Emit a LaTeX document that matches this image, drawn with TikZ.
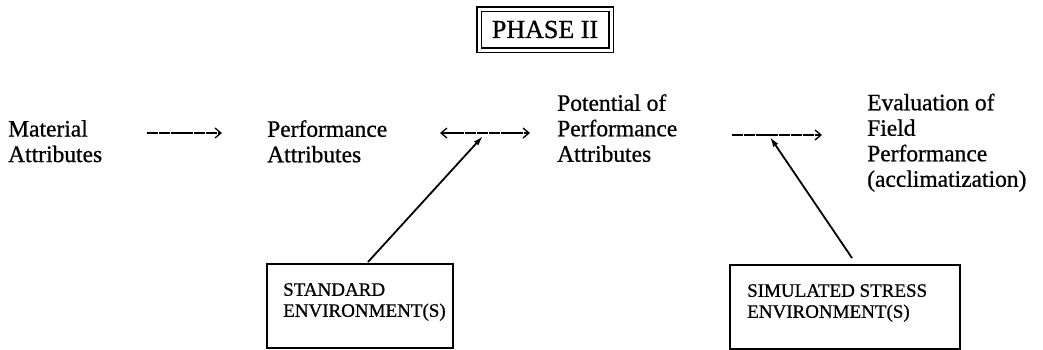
\documentclass[tikz,border=0pt]{standalone}
\usepackage{fontspec}
\setmainfont{Liberation Serif}[FakeBold=0.8]
\usetikzlibrary{arrows.meta}
\begin{document}
\begin{tikzpicture}[x=1pt,y=-1pt,
  lbl/.style={anchor=north west,align=left,inner sep=0pt,font=\fontsize{23.5}{25.5}\selectfont},
  envbox/.style={draw,line width=1.5pt,anchor=north west,minimum height=84pt,inner sep=0pt},
  envtxt/.style={anchor=north west,align=left,inner sep=0pt,font=\fontsize{19}{21}\selectfont},
  barb/.tip={Straight Barb[length=6pt,width=10pt,line width=1.3pt]},
  flow/.style={line width=1.4pt,dash pattern=on 11pt off 0.8pt,-barb},
  dflow/.style={line width=1.4pt,dash pattern=on 11pt off 0.8pt,barb-barb},
  feed/.style={line width=1.8pt,-{Latex[length=10pt,width=6pt]}}]
\useasboundingbox (0,0) rectangle (1043,349);
% Phase box
\node[draw,double,double distance=3pt,line width=1.6pt,minimum width=132pt,minimum height=41pt,font=\fontsize{26}{28}\selectfont] (phase) at (545,29.5) {PHASE II};
% labels
\node[lbl] (mat) at (8,120) {Material\\Attributes};
\node[lbl] (perf) at (267,120) {Performance\\Attributes};
\node[lbl] (pot) at (557,94) {Potential of\\Performance\\Attributes};
\node[lbl] (eval) at (867,93.5) {Evaluation of\\Field\\Performance\\(acclimatization)};
% boxes
\node[envbox,minimum width=186pt] (std) at (266,263) {};
\node[envtxt] (stdt) at (283,283) {STANDARD\\ENVIRONMENT(S)};
\node[envbox,minimum width=230pt] (sim) at (729,264) {};
\node[envtxt] (simt) at (747,284) {SIMULATED STRESS\\ENVIRONMENT(S)};
% arrows
\coordinate (a1s) at (147,133); \coordinate (a1e) at (222,133);
\coordinate (a2s) at (440,133); \coordinate (a2e) at (530,133);
\coordinate (a3s) at (732,135); \coordinate (a3e) at (822,135);
\draw[flow] (a1s) -- (a1e);
\draw[dflow] (a2s) -- (a2e);
\draw[flow] (a3s) -- (a3e);
\coordinate (t1) at (483,136);
\coordinate (t2) at (770,137);
\coordinate (b1) at (368,262);
\coordinate (b2) at (852,258);
\draw[feed] (b1) -- (t1);
\draw[feed] (b2) -- (t2);
\end{tikzpicture}
\end{document}
